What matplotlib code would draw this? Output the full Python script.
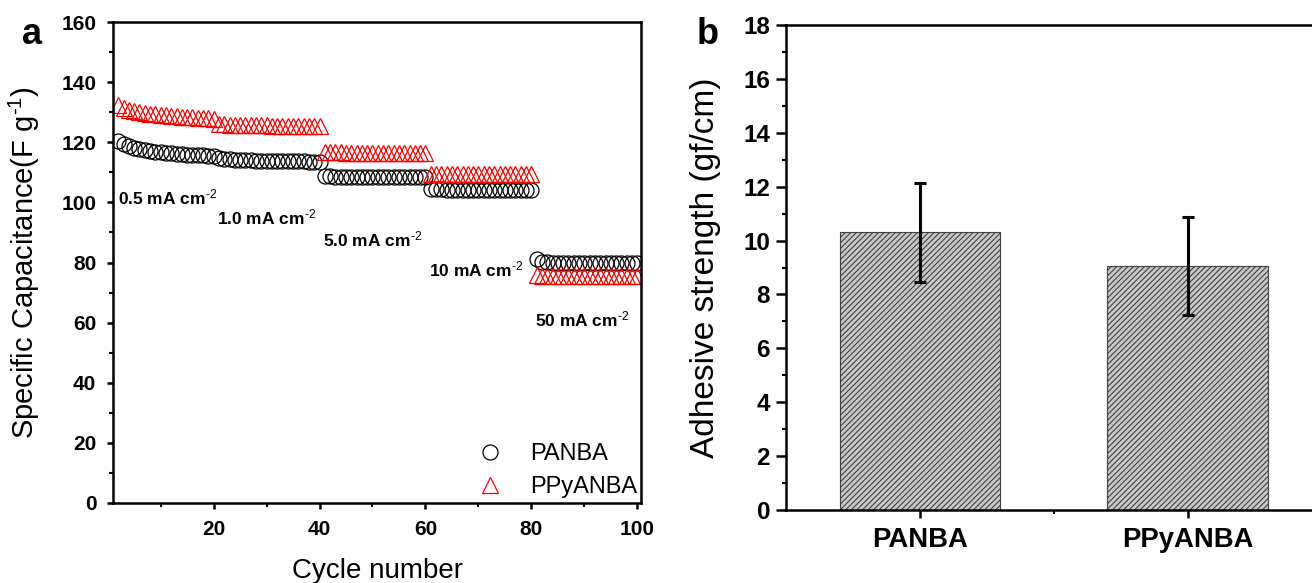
import matplotlib
matplotlib.use("Agg")
import matplotlib.pyplot as plt
from matplotlib.ticker import MultipleLocator, FixedLocator

plt.rcParams['font.family'] = ['Liberation Sans', 'DejaVu Sans']
plt.rcParams['mathtext.fontset'] = 'custom'
plt.rcParams['mathtext.rm'] = 'Liberation Sans'
plt.rcParams['mathtext.bf'] = 'Liberation Sans:bold'
plt.rcParams['mathtext.default'] = 'regular'
plt.rcParams['hatch.linewidth'] = 0.8

# ---------------- data: panel a ----------------
cycles = list(range(2, 101))
panba = [120.5, 119.5, 118.8, 118.2, 117.8, 117.4, 117.1, 116.9, 116.7, 116.5,
         116.3, 116.2, 116.0, 115.9, 115.8, 115.7, 115.6, 115.5, 115.4,
         114.6, 114.4, 114.3, 114.2, 114.1, 114.0, 114.0, 113.9, 113.9, 113.8,
         113.8, 113.7, 113.7, 113.7, 113.6, 113.6, 113.6, 113.5, 113.5, 113.5,
         108.8, 108.7, 108.6, 108.6, 108.5, 108.5, 108.5, 108.4, 108.4, 108.4,
         108.4, 108.4, 108.3, 108.3, 108.3, 108.3, 108.3, 108.3, 108.3, 108.3,
         104.4, 104.3, 104.3, 104.2, 104.2, 104.2, 104.2, 104.2, 104.2, 104.2,
         104.2, 104.2, 104.2, 104.2, 104.2, 104.2, 104.2, 104.2, 104.2, 104.2,
         81.0, 80.3, 80.1, 80.0, 80.0, 80.0, 80.0, 80.0, 80.0, 80.0,
         80.0, 80.0, 80.0, 80.0, 80.0, 80.0, 80.0, 80.0, 80.0, 80.0]
ppyanba = [132.5, 131.5, 130.8, 130.3, 130.0, 129.7, 129.5, 129.3, 129.1, 128.9,
           128.8, 128.6, 128.5, 128.4, 128.3, 128.2, 128.1, 128.0, 127.9,
           126.2, 126.0, 125.9, 125.8, 125.8, 125.7, 125.7, 125.6, 125.6, 125.6,
           125.5, 125.5, 125.5, 125.5, 125.4, 125.4, 125.4, 125.4, 125.4, 125.4,
           116.8, 116.7, 116.6, 116.6, 116.5, 116.5, 116.5, 116.5, 116.5, 116.5,
           116.5, 116.4, 116.4, 116.4, 116.4, 116.4, 116.4, 116.4, 116.4, 116.4,
           109.6, 109.5, 109.5, 109.5, 109.5, 109.5, 109.5, 109.5, 109.5, 109.5,
           109.5, 109.5, 109.5, 109.5, 109.5, 109.5, 109.5, 109.5, 109.5, 109.5,
           76.0, 75.6, 75.5, 75.5, 75.5, 75.5, 75.5, 75.5, 75.5, 75.5,
           75.5, 75.5, 75.5, 75.5, 75.5, 75.5, 75.5, 75.5, 75.5, 75.5]
rate_labels = [r'0.5 mA cm$^{\text{-2}}$', r'1.0 mA cm$^{\text{-2}}$',
               r'5.0 mA cm$^{\text{-2}}$', r'10 mA cm$^{\text{-2}}$',
               r'50 mA cm$^{\text{-2}}$']
rate_label_x = [1.9, 20.7, 40.7, 60.7, 80.7]
rate_label_y = [101.7, 95.0, 87.7, 77.7, 61.0]

# ---------------- data: panel b ----------------
samples = ['PANBA', 'PPyANBA']
strength = [10.3, 9.05]
strength_err = [1.85, 1.82]

fig = plt.figure(figsize=(13.12, 5.83), dpi=100)

# ---------- panel a ----------
a_left, a_right, a_top, a_bottom = 113, 641, 22, 503
axa = fig.add_axes([a_left/1312, 1-a_bottom/583, (a_right-a_left)/1312, (a_bottom-a_top)/583])
axa.plot(cycles, panba, linestyle='none', marker='o', ms=10.8, mfc='none',
         mec='black', mew=0.9, label='PANBA')
axa.plot(cycles, ppyanba, linestyle='none', marker='^', ms=11.5, mfc='none',
         mec='red', mew=0.9, label='PPyANBA')
axa.set_xlim(1, 100.7)
axa.set_ylim(0, 160)
axa.xaxis.set_major_locator(FixedLocator([20, 40, 60, 80, 100]))
axa.xaxis.set_minor_locator(FixedLocator([10, 30, 50, 70, 90]))
axa.yaxis.set_major_locator(MultipleLocator(20))
axa.yaxis.set_minor_locator(MultipleLocator(10))
for s in axa.spines.values():
    s.set_linewidth(1.8)
axa.tick_params(axis='both', which='major', direction='out', length=4.5, width=1.8,
                labelsize=15, pad=7.5, top=False, right=False)
axa.tick_params(axis='both', which='minor', direction='out', length=3, width=1.5,
                top=False, right=False)
for lab in axa.get_xticklabels() + axa.get_yticklabels():
    lab.set_fontweight('bold')
axa.set_xlabel('Cycle number', fontsize=20)
axa.xaxis.set_label_coords((a_left + a_right)/2/1312, 1-558/583, transform=fig.transFigure)
axa.set_ylabel(r'Specific Capacitance(F g$^{\text{-1}}$)', fontsize=21)
axa.yaxis.set_label_coords(42/1312, 1-(a_top + a_bottom)/2/583, transform=fig.transFigure)
for t, x, y in zip(rate_labels, rate_label_x, rate_label_y):
    axa.text(x, y, t, fontsize=12.5, fontweight='bold', ha='left', va='center')
leg = axa.legend(loc='lower right', bbox_to_anchor=(1.02, -0.019), frameon=False,
                 fontsize=17, handletextpad=0.95, labelspacing=0.46,
                 handlelength=1.5, borderaxespad=0.2)
fig.text(22/1312, 1-35/583, 'a', fontsize=26, fontweight='bold', ha='left', va='center')

# ---------- panel b ----------
b_left, b_top, b_bottom = 786, 25, 510
axb = fig.add_axes([b_left/1312, 1-b_bottom/583, (1312-b_left)/1312, (b_bottom-b_top)/583])
xpos = list(range(len(samples)))
axb.bar(xpos, strength, width=0.6, color='#c8c8c8', edgecolor='#404040',
        hatch='//////', linewidth=0.8, zorder=2)
axb.errorbar(xpos, strength, yerr=strength_err, fmt='none', ecolor='black',
             elinewidth=2.2, capsize=4.5, capthick=2.2, zorder=3)
axb.set_xlim(-0.5, 1.465)
axb.set_ylim(0, 18)
axb.set_xticks(xpos)
axb.set_xticklabels(samples, fontsize=19.8, fontweight='bold')
axb.xaxis.set_minor_locator(FixedLocator([0.5]))
axb.yaxis.set_major_locator(MultipleLocator(2))
axb.yaxis.set_minor_locator(MultipleLocator(1))
for s in axb.spines.values():
    s.set_linewidth(1.8)
axb.spines['right'].set_visible(False)
axb.tick_params(axis='y', which='major', direction='out', length=7.5, width=1.8,
                labelsize=17.5, pad=4, right=False)
axb.tick_params(axis='x', which='major', direction='out', length=6, width=1.8,
                pad=6, top=False)
axb.tick_params(axis='both', which='minor', direction='out', length=3, width=1.5,
                top=False, right=False)
for lab in axb.get_yticklabels():
    lab.set_fontweight('bold')
axb.set_ylabel('Adhesive strength (gf/cm)', fontsize=24)
axb.yaxis.set_label_coords(721/1312, 1-(b_top + b_bottom)/2/583, transform=fig.transFigure)
fig.text(697/1312, 1-35/583, 'b', fontsize=26, fontweight='bold', ha='left', va='center')

fig.savefig('out.png', dpi=100)
